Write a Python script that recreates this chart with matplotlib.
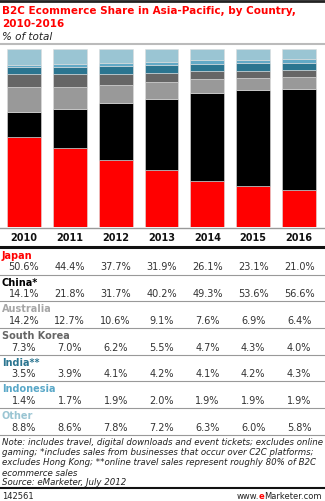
import matplotlib
matplotlib.use("Agg")
import matplotlib.pyplot as plt
import numpy as np

years = ["2010", "2011", "2012", "2013", "2014", "2015", "2016"]
countries = ["Japan", "China*", "Australia", "South Korea", "India**", "Indonesia", "Other"]
japan = [50.6, 44.4, 37.7, 31.9, 26.1, 23.1, 21.0]
china = [14.1, 21.8, 31.7, 40.2, 49.3, 53.6, 56.6]
australia = [14.2, 12.7, 10.6, 9.1, 7.6, 6.9, 6.4]
south_korea = [7.3, 7.0, 6.2, 5.5, 4.7, 4.3, 4.0]
india = [3.5, 3.9, 4.1, 4.2, 4.1, 4.2, 4.3]
indonesia = [1.4, 1.7, 1.9, 2.0, 1.9, 1.9, 1.9]
other = [8.8, 8.6, 7.8, 7.2, 6.3, 6.0, 5.8]
series = [japan, china, australia, south_korea, india, indonesia, other]
colors = ["#ff0000", "#000000", "#999999", "#666666", "#2b7590", "#62a9c6", "#9ac5d3"]
label_colors = ["#ff0000", "#000000", "#a6a6a6", "#666666", "#2b7590", "#5aa8c8", "#9ac5d3"]

W, H = 325, 502
fig = plt.figure(figsize=(W / 100, H / 100), dpi=100)

def fy(py):
    return 1 - py / H

def fx(px):
    return px / W

def hline(py, color, lw, x0=0, x1=W):
    fig.add_artist(plt.Line2D([fx(x0), fx(x1)], [fy(py), fy(py)], color=color, lw=lw))

# header
hline(2, "#222222", 2.0)
fig.text(fx(2), fy(11), "B2C Ecommerce Share in Asia-Pacific, by Country,", color="#ff0000",
         fontsize=7.5, fontweight="bold", va="center", ha="left")
fig.text(fx(2), fy(24), "2010-2016", color="#ff0000", fontsize=7.5, fontweight="bold", va="center", ha="left")
fig.text(fx(2), fy(37), "% of total", color="#222222", fontsize=7.5, style="italic", va="center", ha="left")
hline(45, "#bbbbbb", 1.5)

# bars
ax = fig.add_axes([fx(1), fy(228), fx(321), (228 - 50) / H])
x = np.arange(len(years))
bottom = np.zeros(len(years))
for vals, c in zip(series, colors):
    ax.bar(x, vals, bottom=bottom, width=0.74, color=c, edgecolor="#dddddd", linewidth=0.4)
    bottom += np.array(vals)
ax.set_xlim(-0.5, 6.5)
ax.set_ylim(0, 100)
ax.axis("off")
hline(228.5, "#999999", 1.0)

# table
centers = [fx(1) + (i + 0.5) * fx(321) / 7 for i in range(len(years))]
for cx, yr in zip(centers, years):
    fig.text(cx, fy(238), yr, fontsize=7, fontweight="bold", color="#111111", ha="center", va="center")
hline(248, "#111111", 2.2)

row_top = 256
row_h = 26.7
for i, (name, vals, lc) in enumerate(zip(countries, series, label_colors)):
    y0 = row_top + i * row_h
    fig.text(fx(2), fy(y0), name, fontsize=7, fontweight="bold", color=lc, ha="left", va="center")
    for cx, v in zip(centers, vals):
        fig.text(cx, fy(y0 + 11.5), f"{v:.1f}%", fontsize=7, color="#333333", ha="center", va="center")
    hline(y0 + 19.5, "#999999", 0.8)

# notes
notes = ["Note: includes travel, digital downloads and event tickets; excludes online",
         "gaming; *includes sales from businesses that occur over C2C platforms;",
         "excludes Hong Kong; **online travel sales represent roughly 80% of B2C",
         "ecommerce sales",
         "Source: eMarketer, July 2012"]
for j, line in enumerate(notes):
    fig.text(fx(2), fy(443 + j * 10), line, fontsize=6.2, style="italic", color="#222222", ha="left", va="center")
hline(489, "#111111", 1.5)
fig.text(fx(2), fy(497), "142561", fontsize=6, color="#222222", ha="left", va="center")

# footer url, built right to left
r = fig.canvas.get_renderer()
xr = fx(322)
for part, col, wt in [("Marketer.com", "#222222", "normal"), ("e", "#ff0000", "bold"), ("www.", "#222222", "normal")]:
    t = fig.text(xr, fy(497), part, fontsize=6, color=col, fontweight=wt, ha="right", va="center")
    bb = t.get_window_extent(renderer=r)
    xr = bb.x0 / fig.bbox.width

fig.savefig("out.png", dpi=100)
